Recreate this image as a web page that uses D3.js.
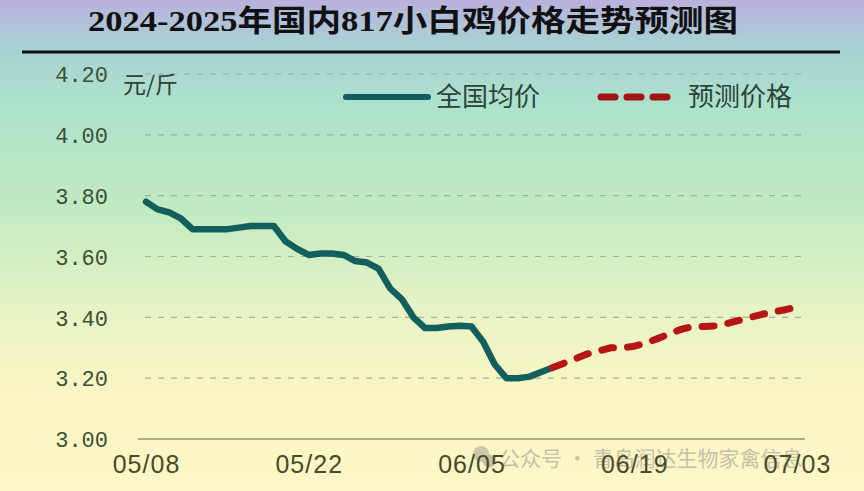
<!DOCTYPE html>
<html><head><meta charset="utf-8">
<script src="https://cdn.jsdelivr.net/npm/d3@7/dist/d3.min.js"></script>
<style>html,body{margin:0;padding:0;overflow:hidden;}svg{display:block;}</style>
</head><body>
<script>
const title = "2024-2025年国内817小白鸡价格走势预测图";
const unitLabel = "元/斤";
const seriesNames = ["全国均价", "预测价格"];
const watermark = "公众号 · 青岛润达生物家禽信息";

const actualDates = ["05/08","05/09","05/10","05/11","05/12","05/13","05/14","05/15","05/16","05/17","05/18","05/19","05/20","05/21","05/22","05/23","05/24","05/25","05/26","05/27","05/28","05/29","05/30","05/31","06/01","06/02","06/03","06/04","06/05","06/06","06/07","06/08","06/09","06/10","06/11","06/12"];
const actualValues = [3.78,3.755,3.745,3.725,3.69,3.69,3.69,3.69,3.695,3.70,3.70,3.70,3.65,3.625,3.605,3.61,3.61,3.605,3.585,3.58,3.56,3.495,3.46,3.40,3.365,3.365,3.37,3.372,3.37,3.32,3.245,3.20,3.20,3.205,3.22,3.235];

const forecastDates = ["06/12","06/13","06/14","06/15","06/16","06/17","06/18","06/19","06/20","06/21","06/22","06/23","06/24","06/25","06/26","06/27","06/28","06/29","06/30","07/01","07/02","07/03"];
const forecastValues = [3.235,3.25,3.265,3.28,3.29,3.30,3.30,3.305,3.315,3.33,3.345,3.36,3.37,3.37,3.372,3.38,3.39,3.40,3.41,3.418,3.425,3.435];

const xTickLabels = ["05/08","05/22","06/05","06/19","07/03"];
const yTickValues = [3.00,3.20,3.40,3.60,3.80,4.00,4.20];

const W = 864, H = 491;
const parse = s => { const [m,d] = s.split("/").map(Number); return new Date(2025, m-1, d); };

const svg = d3.select("body").append("svg").attr("width", W).attr("height", H);
const defs = svg.append("defs");
const g = defs.append("linearGradient").attr("id","bg").attr("x1",0).attr("y1",0).attr("x2",0).attr("y2",1);
[[0,"#bab1dd"],[0.09,"#a9d2d4"],[0.22,"#ade2cc"],[0.42,"#c0eac2"],[0.62,"#e6f3c4"],[0.8,"#fbf6c6"],[1,"#fff7c8"]]
  .forEach(([o,c]) => g.append("stop").attr("offset",o).attr("stop-color",c));
svg.append("rect").attr("width",W).attr("height",H).attr("fill","url(#bg)");

const x = d3.scaleTime().domain([parse("05/08"), parse("07/03")]).range([146, 797]);
const y = d3.scaleLinear().domain([3.0, 4.2]).range([439, 74]);

// title
svg.append("text").attr("x", 413).attr("y", 31).attr("text-anchor","middle")
  .attr("font-family","'Liberation Serif','Noto Sans CJK SC',serif").attr("font-weight","bold")
  .attr("font-size", 30).attr("fill","#111").attr("textLength", 650).attr("lengthAdjust","spacingAndGlyphs")
  .text(title);
svg.append("line").attr("x1",22).attr("x2",840).attr("y1",52).attr("y2",52).attr("stroke","#111").attr("stroke-width",3);

// gridlines
svg.append("g").selectAll("line").data(yTickValues.filter(v => v > 3.0)).join("line")
  .attr("x1",145).attr("x2",805).attr("y1",d=>y(d)).attr("y2",d=>y(d))
  .attr("stroke","#98a498").attr("stroke-width",1.2).attr("stroke-dasharray","6,7").attr("opacity",0.85);
svg.append("line").attr("x1",138).attr("x2",805).attr("y1",y(3.0)).attr("y2",y(3.0))
  .attr("stroke","#8c9478").attr("stroke-width",1.5);

// y axis
const yAxis = d3.axisLeft(y).tickValues(yTickValues).tickSize(0).tickPadding(0).tickFormat(d3.format(".2f"));
const ya = svg.append("g").attr("transform","translate(108,0)").call(yAxis);
ya.select(".domain").remove();
ya.selectAll("text").attr("font-family","'Liberation Mono','DejaVu Sans Mono',monospace")
  .attr("font-size",22).attr("fill","#3b4f36").attr("dy","0.35em");

svg.append("text").attr("x",123).attr("y",93).attr("font-family","'Noto Sans CJK SC',sans-serif")
  .attr("font-size",23).attr("fill","#2f3f33").text(unitLabel);

// watermark (behind axis labels)
const wm = svg.append("g").attr("opacity",0.5);
wm.append("circle").attr("cx",481).attr("cy",454).attr("r",8).attr("fill","#9a9a92");
wm.append("circle").attr("cx",489).attr("cy",461).attr("r",6.5).attr("fill","#8a8a84");
wm.append("text").attr("x",499).attr("y",466).attr("font-family","'Noto Sans CJK SC',sans-serif")
  .attr("font-size",21).attr("fill","#8d8d88").text(watermark);

// x axis
const xAxis = d3.axisBottom(x).tickValues(xTickLabels.map(parse)).tickSize(0).tickPadding(0)
  .tickFormat(d3.timeFormat("%m/%d"));
const xa = svg.append("g").attr("transform",`translate(0,${y(3.0)})`).call(xAxis);
xa.select(".domain").remove();
xa.selectAll("text").attr("font-family","'Liberation Sans Narrow','Liberation Sans',sans-serif")
  .attr("font-size",25).attr("fill","#4a4a26").attr("dy","1.35em").attr("letter-spacing",1);

// lines
const line = d3.line().x(d => x(d.date)).y(d => y(d.v)).curve(d3.curveLinear);
const actual = actualDates.map((s,i) => ({date: parse(s), v: actualValues[i]}));
const forecast = forecastDates.map((s,i) => ({date: parse(s), v: forecastValues[i]}));

svg.append("path").datum(actual).attr("d", line).attr("fill","none")
  .attr("stroke","#135f5d").attr("stroke-width",6.5).attr("stroke-linejoin","round").attr("stroke-linecap","round");
svg.append("path").datum(forecast).attr("d", line).attr("fill","none")
  .attr("stroke","#b51515").attr("stroke-width",7).attr("stroke-linejoin","round").attr("stroke-linecap","round")
  .attr("stroke-dasharray","12,14");

// legend
svg.append("line").attr("x1",346).attr("x2",428).attr("y1",97).attr("y2",97)
  .attr("stroke","#155b62").attr("stroke-width",6).attr("stroke-linecap","round");
svg.append("text").attr("x",436).attr("y",106).attr("font-family","'Noto Sans CJK SC',sans-serif")
  .attr("font-size",26).attr("fill","#2a4638").text(seriesNames[0]);
svg.append("line").attr("x1",601).attr("x2",675).attr("y1",97).attr("y2",97)
  .attr("stroke","#a01414").attr("stroke-width",7).attr("stroke-linecap","round").attr("stroke-dasharray","14,12");
svg.append("text").attr("x",688).attr("y",106).attr("font-family","'Noto Sans CJK SC',sans-serif")
  .attr("font-size",26).attr("fill","#2a4638").text(seriesNames[1]);
</script>
</body></html>
